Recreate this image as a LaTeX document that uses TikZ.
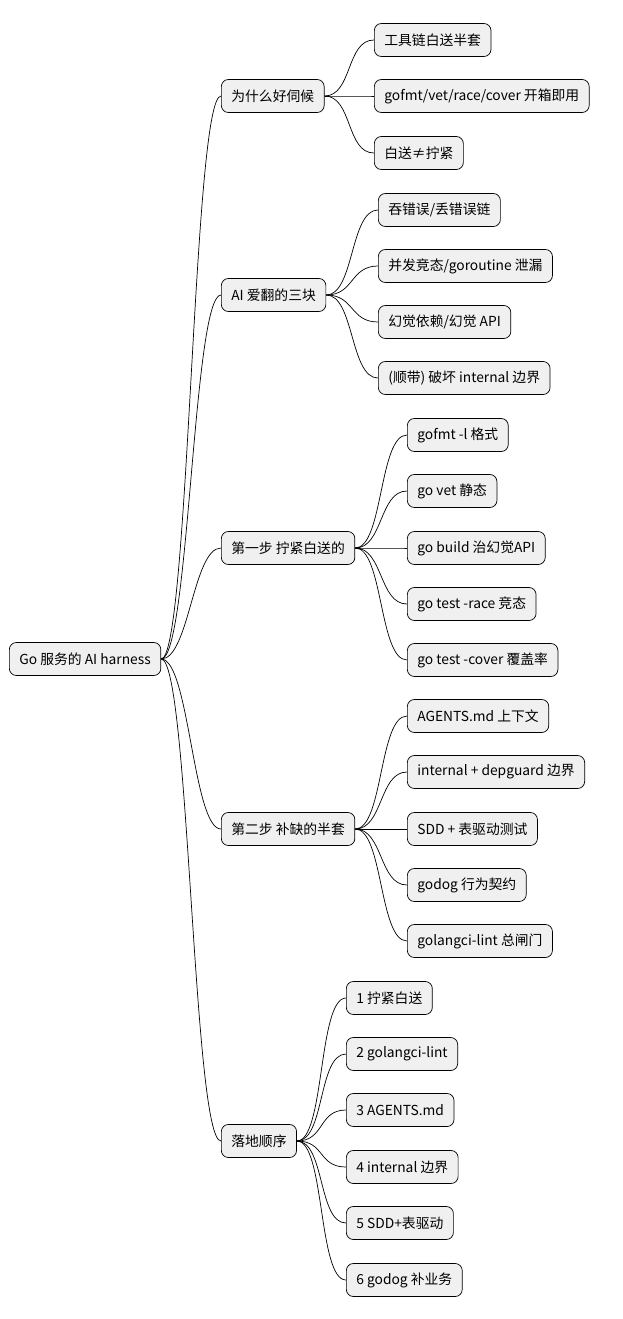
\documentclass[tikz,border=0pt]{standalone}
\usepackage{fontspec}
\setmainfont{Noto Sans CJK SC}
\usetikzlibrary{positioning}
\tikzset{
	every path/.style={line width=0.7pt},
	topic/.style={
		draw,
		rectangle,
		rounded corners=7pt,
		fill=black!6,
		minimum height=33pt,
		inner xsep=10pt,
		anchor=west,
		font=\fontsize{13.8pt}{15pt}\selectfont,
	},
	branch/.style={
		out=0,
		in=180,
		distance=28pt,
	},
}

\begin{document}
\begin{tikzpicture}[x=1pt,y=-1pt]
		\useasboundingbox (0,0) rectangle (623,1319);

		\node[topic]	(root) at (9,659) {Go 服务的 AI harness};

		\node[topic]	(why) at (221,96) {为什么好伺候};
		\node[topic]	(flip) at (221,295) {AI 爱翻的三块};
		\node[topic]	(step1) at (221,548) {第一步 拧紧白送的};
		\node[topic]	(step2) at (221,829) {第二步 补缺的半套};
		\node[topic]	(order) at (221,1141) {落地顺序};

		\draw (root.east) to[branch] (why.west);
		\draw (root.east) to[branch] (flip.west);
		\draw (root.east) to[branch] (step1.west);
		\draw (root.east) to[branch] (step2.west);
		\draw (root.east) to[branch] (order.west);

%*********

		\node[topic]	(why1) at (374,40) {工具链白送半套};
		\node[topic]	(why2) at (374,96) {gofmt/vet/race/cover 开箱即用};
		\node[topic]	(why3) at (374,153) {白送≠拧紧};

		\draw (why.east) to[branch] (why1.west);
		\draw (why.east) to[branch] (why2.west);
		\draw (why.east) to[branch] (why3.west);

%*********

		\node[topic]	(flip1) at (378,210) {吞错误/丢错误链};
		\node[topic]	(flip2) at (378,266) {并发竞态/goroutine 泄漏};
		\node[topic]	(flip3) at (378,322) {幻觉依赖/幻觉 API};
		\node[topic]	(flip4) at (378,378) {(顺带) 破坏 internal 边界};

		\draw (flip.east) to[branch] (flip1.west);
		\draw (flip.east) to[branch] (flip2.west);
		\draw (flip.east) to[branch] (flip3.west);
		\draw (flip.east) to[branch] (flip4.west);

%*********

		\node[topic]	(fmt) at (407,435) {gofmt -l 格式};
		\node[topic]	(vet) at (407,491) {go vet 静态};
		\node[topic]	(build) at (407,548) {go build 治幻觉API};
		\node[topic]	(race) at (407,604) {go test -race 竞态};
		\node[topic]	(cover) at (407,660) {go test -cover 覆盖率};

		\draw (step1.east) to[branch] (fmt.west);
		\draw (step1.east) to[branch] (vet.west);
		\draw (step1.east) to[branch] (build.west);
		\draw (step1.east) to[branch] (race.west);
		\draw (step1.east) to[branch] (cover.west);

%*********

		\node[topic]	(agents) at (407,716) {AGENTS.md 上下文};
		\node[topic]	(guard) at (407,772) {internal + depguard 边界};
		\node[topic]	(sdd) at (407,829) {SDD + 表驱动测试};
		\node[topic]	(godog) at (407,885) {godog 行为契约};
		\node[topic]	(lint) at (407,941) {golangci-lint 总闸门};

		\draw (step2.east) to[branch] (agents.west);
		\draw (step2.east) to[branch] (guard.west);
		\draw (step2.east) to[branch] (sdd.west);
		\draw (step2.east) to[branch] (godog.west);
		\draw (step2.east) to[branch] (lint.west);

%*********

		\node[topic]	(ord1) at (346,998) {1 拧紧白送};
		\node[topic]	(ord2) at (346,1054) {2 golangci-lint};
		\node[topic]	(ord3) at (346,1110) {3 AGENTS.md};
		\node[topic]	(ord4) at (346,1167) {4 internal 边界};
		\node[topic]	(ord5) at (346,1223) {5 SDD+表驱动};
		\node[topic]	(ord6) at (346,1280) {6 godog 补业务};

		\draw (order.east) to[branch] (ord1.west);
		\draw (order.east) to[branch] (ord2.west);
		\draw (order.east) to[branch] (ord3.west);
		\draw (order.east) to[branch] (ord4.west);
		\draw (order.east) to[branch] (ord5.west);
		\draw (order.east) to[branch] (ord6.west);

	\end{tikzpicture}
\end{document}
